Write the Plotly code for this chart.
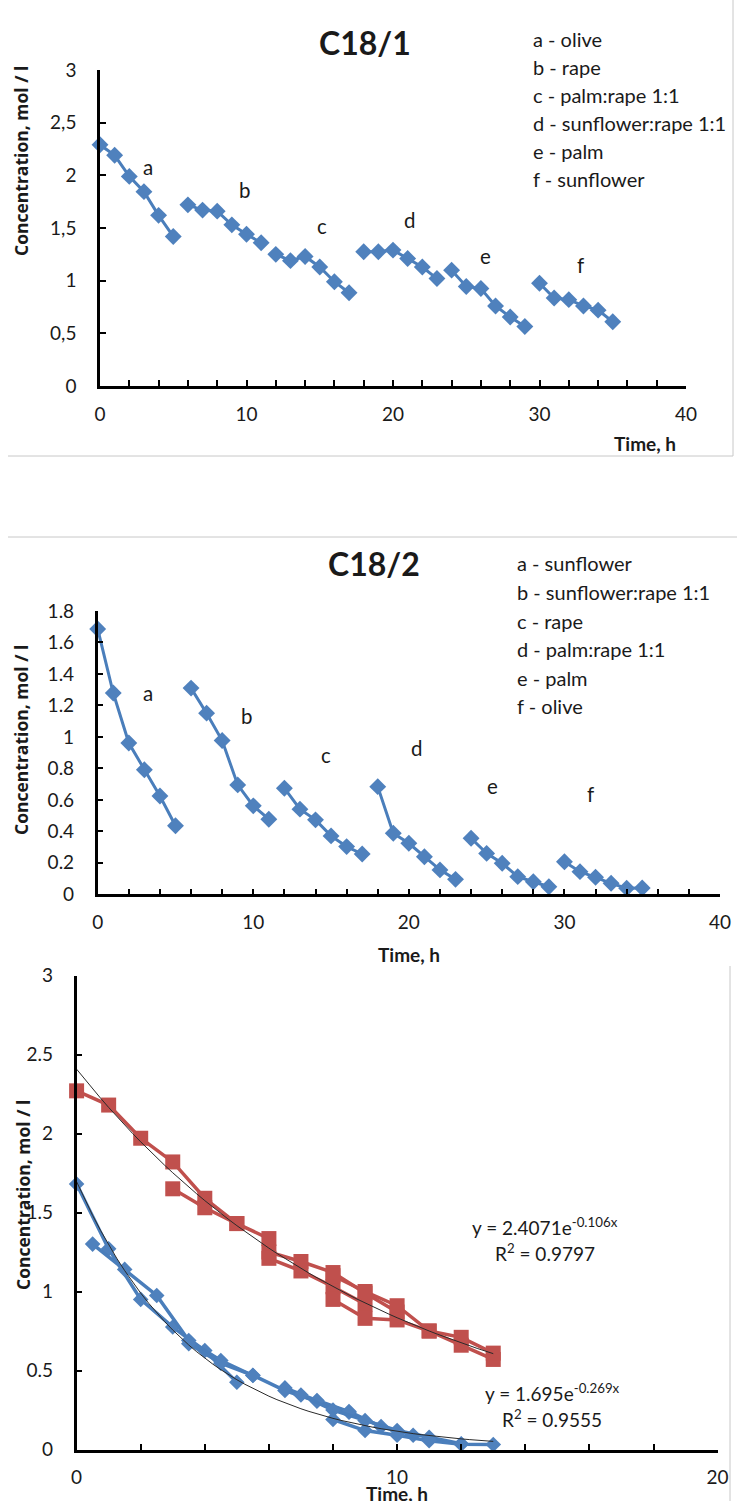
import math
import plotly.graph_objects as go

W, H = 737, 1501
BLUE = "#4F81BD"
BLUE_LINE = "#4A7EBB"
RED = "#C0504D"
TXT = "#1a1a1a"
FONT = "Lato"

# ---------------- Panel 1: C18/1 ----------------
c181_groups = ["a", "b", "c", "d", "e", "f"]
c181_legend = ["a - olive", "b - rape", "c - palm:rape 1:1",
               "d - sunflower:rape 1:1", "e - palm", "f - sunflower"]
c181_t_a = [0, 1, 2, 3, 4, 5]
c181_t_b = [6, 7, 8, 9, 10, 11]
c181_t_c = [12, 13, 14, 15, 16, 17]
c181_t_d = [18, 19, 20, 21, 22, 23]
c181_t_e = [24, 25, 26, 27, 28, 29]
c181_t_f = [30, 31, 32, 33, 34, 35]
c181_a = [2.29, 2.19, 1.99, 1.845, 1.62, 1.42]
c181_b = [1.72, 1.67, 1.66, 1.53, 1.44, 1.36]
c181_c = [1.25, 1.19, 1.23, 1.13, 0.99, 0.885]
c181_d = [1.275, 1.275, 1.29, 1.21, 1.13, 1.02]
c181_e = [1.10, 0.945, 0.925, 0.76, 0.655, 0.565]
c181_f = [0.975, 0.835, 0.82, 0.76, 0.72, 0.61]
c181_yticks = [0, 0.5, 1, 1.5, 2, 2.5, 3]
c181_yticktext = ["0", "0,5", "1", "1,5", "2", "2,5", "3"]

# ---------------- Panel 2: C18/2 ----------------
c182_groups = ["a", "b", "c", "d", "e", "f"]
c182_legend = ["a - sunflower", "b - sunflower:rape 1:1", "c - rape",
               "d - palm:rape 1:1", "e - palm", "f - olive"]
c182_t_a = [0, 1, 2, 3, 4, 5]
c182_t_b = [6, 7, 8, 9, 10, 11]
c182_t_c = [12, 13, 14, 15, 16, 17]
c182_t_d = [18, 19, 20, 21, 22, 23]
c182_t_e = [24, 25, 26, 27, 28, 29]
c182_t_f = [30, 31, 32, 33, 34, 35]
c182_a = [1.686, 1.279, 0.961, 0.791, 0.625, 0.436]
c182_b = [1.31, 1.151, 0.977, 0.695, 0.562, 0.477]
c182_c = [0.674, 0.541, 0.473, 0.371, 0.303, 0.256]
c182_d = [0.684, 0.388, 0.324, 0.239, 0.155, 0.095]
c182_e = [0.356, 0.26, 0.197, 0.112, 0.08, 0.048]
c182_f = [0.207, 0.144, 0.108, 0.07, 0.038, 0.04]
c182_yticks = [0, 0.2, 0.4, 0.6, 0.8, 1, 1.2, 1.4, 1.6, 1.8]
c182_yticktext = ["0", "0.2", "0.4", "0.6", "0.8", "1", "1.2", "1.4", "1.6", "1.8"]

# ---------------- Panel 3: combined, shifted time ----------------
red_t_a = [0, 1, 2, 3, 4, 5]
red_a = [2.27, 2.18, 1.97, 1.82, 1.59, 1.43]
red_t_b = [3, 4, 5, 6]
red_b = [1.65, 1.53, 1.43, 1.335]
red_t_c = [6, 7, 8, 9, 10]
red_c = [1.25, 1.19, 1.12, 0.99, 0.87]
red_t_d = [6, 7, 8, 9]
red_d = [1.21, 1.13, 1.03, 0.92]
red_t_e = [8, 9, 10, 11, 12, 13]
red_e = [1.10, 1.0, 0.91, 0.75, 0.66, 0.57]
red_t_f = [8, 9, 10, 11, 12, 13]
red_f = [0.95, 0.83, 0.82, 0.75, 0.71, 0.61]

blue_t_a = [0, 1, 2, 3, 4, 5]
blue_a = [1.68, 1.27, 0.95, 0.775, 0.626, 0.426]
blue_t_b = [0.5, 1.5, 2.5, 3.5, 4.5, 5.5]
blue_b = [1.30, 1.14, 0.975, 0.69, 0.563, 0.468]
blue_t_c = [3.5, 4.5, 5.5, 6.5, 7.5, 8.5]
blue_c = [0.67, 0.546, 0.47, 0.373, 0.305, 0.236]
blue_t_d = [6.5, 7.5, 8.5, 9.5, 10.5]
blue_d = [0.39, 0.31, 0.24, 0.145, 0.09]
blue_t_e = [7, 8, 9, 10, 11, 12]
blue_e = [0.345, 0.25, 0.184, 0.12, 0.078, 0.036]
blue_t_f = [8, 9, 10, 11, 12, 13]
blue_f = [0.19, 0.12, 0.09, 0.055, 0.033, 0.032]

# exponential trendlines as printed on the chart
red_fit_a, red_fit_k, red_fit_r2 = 2.4071, -0.106, 0.9797
blue_fit_a, blue_fit_k, blue_fit_r2 = 1.695, -0.269, 0.9555
fit_t = [i * 0.25 for i in range(0, 53)]  # 0 .. 13 h


def px(x):
    return x / W


def py(y):
    return 1 - y / H


fig = go.Figure()


def add_series(tlist, vlist, xa, ya, color, lcolor, symbol, size, lw):
    for t, v in zip(tlist, vlist):
        fig.add_trace(go.Scatter(
            x=t, y=v, xaxis=xa, yaxis=ya, mode="lines+markers",
            line=dict(color=lcolor, width=lw),
            marker=dict(symbol=symbol, size=size, color=color),
            cliponaxis=False, showlegend=False, hoverinfo="x+y"))


add_series([c181_t_a, c181_t_b, c181_t_c, c181_t_d, c181_t_e, c181_t_f],
           [c181_a, c181_b, c181_c, c181_d, c181_e, c181_f],
           "x", "y", BLUE, BLUE_LINE, "diamond", 13, 3)
add_series([c182_t_a, c182_t_b, c182_t_c, c182_t_d, c182_t_e, c182_t_f],
           [c182_a, c182_b, c182_c, c182_d, c182_e, c182_f],
           "x2", "y2", BLUE, BLUE_LINE, "diamond", 13, 3)
add_series([red_t_a, red_t_b, red_t_c, red_t_d, red_t_e, red_t_f],
           [red_a, red_b, red_c, red_d, red_e, red_f],
           "x3", "y3", RED, RED, "square", 15, 3.5)
add_series([blue_t_a, blue_t_b, blue_t_c, blue_t_d, blue_t_e, blue_t_f],
           [blue_a, blue_b, blue_c, blue_d, blue_e, blue_f],
           "x3", "y3", BLUE, BLUE_LINE, "diamond", 12, 3.5)

for a, k in [(red_fit_a, red_fit_k), (blue_fit_a, blue_fit_k)]:
    fig.add_trace(go.Scatter(
        x=fit_t, y=[a * math.exp(k * t) for t in fit_t], xaxis="x3", yaxis="y3",
        mode="lines", line=dict(color="#2a2a2a", width=1),
        showlegend=False, hoverinfo="skip"))

tickfont = dict(family=FONT, size=19, color=TXT)


def xaxis(domain, anchor, rng, dtick, minor):
    return dict(domain=domain, anchor=anchor, range=rng, showgrid=False, zeroline=False,
                showline=True, linecolor="black", linewidth=2.5,
                ticks="inside", ticklen=6, tickwidth=2, tickcolor="black",
                dtick=dtick, tick0=0, tickfont=tickfont, ticklabelstandoff=9,
                minor=dict(dtick=minor, ticks="inside", ticklen=6, tickwidth=2,
                           tickcolor="black", showgrid=False),
                fixedrange=True, automargin=False)


def yaxis(domain, anchor, rng, vals, text):
    return dict(domain=domain, anchor=anchor, range=rng, showgrid=False, zeroline=False,
                showline=True, linecolor="black", linewidth=2.5,
                ticks="inside", ticklen=6, tickwidth=2, tickcolor="black",
                tickvals=vals, ticktext=text, tickfont=tickfont, ticklabelstandoff=17,
                fixedrange=True, automargin=False)


fig.update_layout(
    width=W, height=H, autosize=False,
    margin=dict(l=0, r=0, t=0, b=0, pad=0, autoexpand=False),
    paper_bgcolor="white", plot_bgcolor="rgba(0,0,0,0)",
    font=dict(family=FONT, color=TXT),
    xaxis=xaxis([px(100), px(686)], "y", [0, 40], 10, 2),
    yaxis=yaxis([py(386), py(70)], "x", [0, 3], c181_yticks, c181_yticktext),
    xaxis2=xaxis([px(97.7), px(720)], "y2", [0, 40], 10, 2),
    yaxis2=yaxis([py(894.3), py(611)], "x2", [0, 1.8], c182_yticks, c182_yticktext),
    xaxis3=xaxis([px(76.6), px(717.6)], "y3", [0, 20], 10, 2),
    yaxis3=yaxis([py(1449.5), py(975.5)], "x3", [0, 3],
                 [0, 0.5, 1, 1.5, 2, 2.5, 3], ["0", "0.5", "1", "1.5", "2", "2.5", "3"]),
)

ann = []


def text(x, y, s, size=18, bold=False, xanchor="center", angle=0, family=FONT):
    ann.append(dict(x=px(x), y=py(y), xref="paper", yref="paper", text=s,
                    showarrow=False, xanchor=xanchor, yanchor="middle", textangle=angle,
                    font=dict(family=family, size=size, color=TXT,
                              weight="bold" if bold else "normal")))


# titles
text(364.5, 43, "C18/1", size=32, bold=True)
text(373.6, 563, "C18/2", size=32, bold=True)
# legends
for s, y in zip(c181_legend, [39, 67, 95, 123, 151, 179]):
    text(531, y, s, size=20, xanchor="left")
for s, y in zip(c182_legend, [563, 592, 621, 649, 678, 706]):
    text(514.6, y, s, size=20, xanchor="left")
# axis titles
text(21, 161, "Concentration, mol / l", size=17.5, bold=True, angle=-90, family="Open Sans")
text(21, 740, "Concentration, mol / l", size=17.5, bold=True, angle=-90, family="Open Sans")
text(23, 1195, "Concentration, mol / l", size=17.5, bold=True, angle=-90, family="Open Sans")
text(645, 443, "Time, h", size=19, bold=True)
text(409, 954, "Time, h", size=19, bold=True)
text(397, 1493, "Time, h", size=19, bold=True)

# group letters in data coords
c181_label_x = [3.3, 9.83, 15.13, 21.16, 26.28, 32.83]
c181_label_y = [2.08, 1.86, 1.52, 1.576, 1.234, 1.15]
c182_label_x = [3.25, 9.58, 14.67, 20.5, 25.4, 31.68]
c182_label_y = [1.279, 1.13, 0.886, 0.929, 0.689, 0.638]
for g, x, y in zip(c181_groups, c181_label_x, c181_label_y):
    ann.append(dict(x=x, y=y, xref="x", yref="y", text=g, showarrow=False,
                    font=dict(family=FONT, size=20.5, color=TXT)))
for g, x, y in zip(c182_groups, c182_label_x, c182_label_y):
    ann.append(dict(x=x, y=y, xref="x2", yref="y2", text=g, showarrow=False,
                    font=dict(family=FONT, size=20.5, color=TXT)))

# trendline equations
text(545, 1226, "y = %.4fe<sup>%.3fx</sup>" % (red_fit_a, red_fit_k), size=19)
text(545, 1252, "R<sup>2</sup> = %.4f" % red_fit_r2, size=19)
text(552, 1392, "y = %.3fe<sup>%.3fx</sup>" % (blue_fit_a, blue_fit_k), size=19)
text(552, 1418, "R<sup>2</sup> = %.4f" % blue_fit_r2, size=19)

fig.update_layout(annotations=ann)

# chart-area frame lines
frame = "#C8C8C8"
shapes = [
    dict(type="line", xref="paper", yref="paper", x0=px(8), x1=px(733), y0=py(456), y1=py(456),
         line=dict(color=frame, width=1)),
    dict(type="line", xref="paper", yref="paper", x0=px(733), x1=px(733), y0=py(0), y1=py(456),
         line=dict(color=frame, width=1)),
    dict(type="line", xref="paper", yref="paper", x0=px(8), x1=px(737), y0=py(537), y1=py(537),
         line=dict(color=frame, width=1)),
    dict(type="line", xref="paper", yref="paper", x0=px(730), x1=px(730), y0=py(966), y1=py(1501),
         line=dict(color=frame, width=1)),
]
fig.update_layout(shapes=shapes)

# remove the browser's default 8px page margin so the figure sits at (0, 0)
fig.write_html("out.html", config={"displayModeBar": False},
               post_script="document.body.style.margin='0px';document.body.style.overflow='hidden';")
